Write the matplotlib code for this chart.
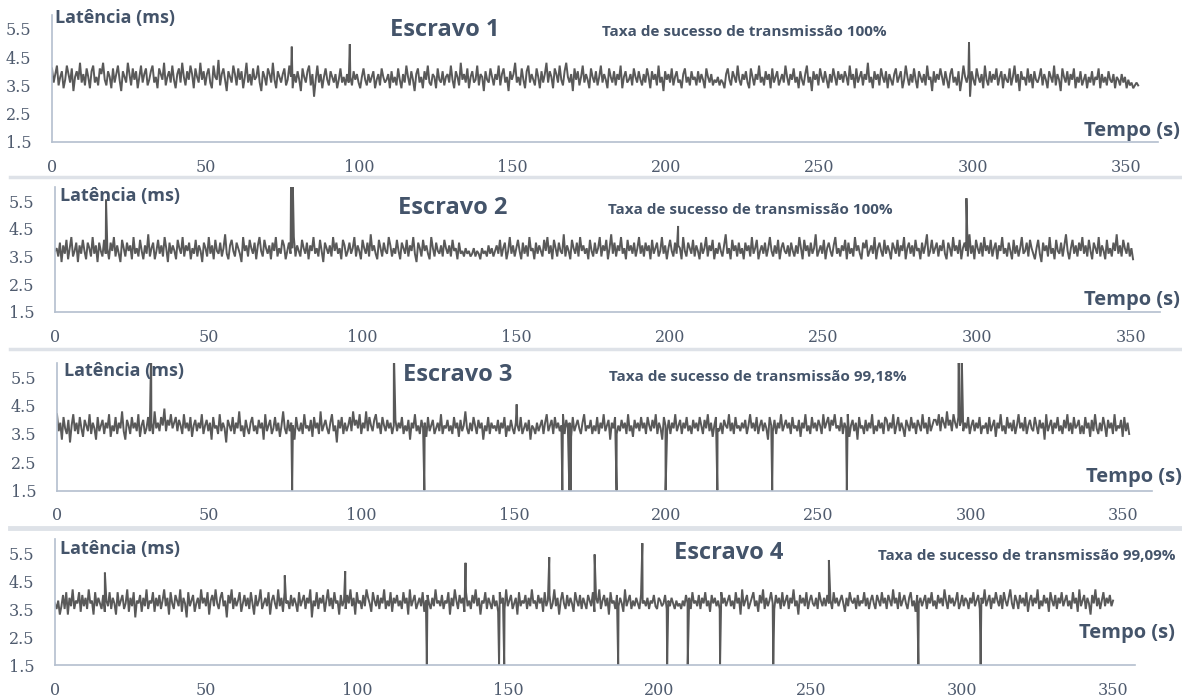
import numpy as np
import matplotlib
matplotlib.use('Agg')
import matplotlib.pyplot as plt
from matplotlib.lines import Line2D

# ---------------- data (latency in tenths of ms) ----------------
slave1 = [
41,36,39,42,35,38,40,34,37,42,39,36,41,33,38,40,37,43,36,39,35,41,38,34,40,42,36,38,35,41,
39,43,37,35,40,38,34,41,36,39,42,37,33,40,38,36,43,39,35,41,37,40,34,38,42,36,39,41,35,37,
40,42,36,38,34,41,39,37,43,35,38,40,36,42,37,34,39,41,36,43,38,35,40,37,42,39,34,41,38,36,
43,37,40,35,39,41,36,34,42,38,37,44,35,39,41,37,33,40,38,36,42,39,35,41,37,40,34,38,43,36,
39,35,41,37,38,42,36,33,40,38,35,41,39,36,43,37,34,40,38,36,39,41,35,37,42,38,34,39,36,40,
37,33,41,38,36,40,42,35,39,31,37,42,36,39,34,38,41,37,35,40,38,36,39,34,37,41,36,38,35,39,
36,38,35,40,37,39,36,34,38,41,37,35,39,36,38,40,34,37,39,35,41,38,36,37,39,34,40,36,38,35,
41,37,34,39,36,42,38,35,40,37,33,39,41,36,38,34,40,37,42,36,35,39,38,34,41,37,36,40,35,38,
39,36,42,37,34,40,38,35,43,37,39,36,41,34,38,40,36,37,42,35,39,38,33,40,37,36,41,38,35,39,
37,42,35,39,41,36,38,33,40,37,39,43,36,38,35,41,37,34,40,42,36,39,37,35,41,38,34,40,36,39,
43,36,40,38,34,41,39,36,42,37,35,40,43,38,36,39,33,41,37,40,35,38,42,36,39,37,34,41,38,36,
40,35,38,42,36,39,37,34,41,38,36,40,35,39,37,42,34,38,40,36,37,39,35,41,38,36,40,37,35,39,
36,41,38,34,40,37,39,35,42,36,38,33,40,37,39,36,41,35,38,40,36,37,34,39,41,36,38,35,40,37,
38,35,40,36,39,37,34,41,38,36,39,35,37,36,38,35,37,36,34,39,41,37,35,40,38,36,42,37,35,39,
37,40,36,34,41,38,35,39,37,42,36,38,35,40,37,39,34,41,36,38,40,35,37,39,36,42,38,35,39,37,
41,36,38,34,40,37,35,39,42,36,38,33,40,37,39,35,41,38,36,40,37,34,39,36,41,38,35,40,37,39,
36,40,38,35,42,37,39,34,41,36,38,40,35,39,37,43,36,38,34,40,37,39,35,41,38,36,40,34,39,37,
35,39,41,36,38,40,34,37,42,38,35,39,36,41,37,34,40,38,36,39,35,42,37,38,33,40,36,39,37,41,
38,35,40,37,34,39,41,36,38,35,40,33,37,42,38,36,39,31,40,37,35,41,38,36,39,34,42,37,35,40,
36,39,37,41,35,38,40,34,39,37,36,41,35,38,42,36,39,33,40,37,38,35,41,36,39,34,40,37,36,38,
41,35,39,37,34,40,38,36,42,35,39,37,33,41,38,36,40,35,39,37,41,34,38,36,40,35,37,39,34,38,
36,40,35,38,37,41,34,39,36,38,35,40,37,36,39,34,38,37,35,39,36,38,34,37,35,36,34,35,36,35]
slave2 = [
37,38,35,40,33,39,36,41,34,38,42,35,37,40,33,39,36,41,37,34,40,38,35,42,36,39,33,40,37,35,
41,36,38,34,40,37,42,35,39,36,33,41,38,35,40,37,39,34,42,36,38,35,41,37,34,39,36,43,35,38,
40,34,37,41,36,39,35,42,38,33,40,36,39,37,34,41,38,36,42,35,39,37,40,34,38,36,41,35,39,37,
33,40,38,35,42,36,39,34,41,37,36,40,35,38,43,36,34,39,41,37,35,40,38,36,33,42,37,39,35,41,
38,36,40,34,39,42,37,35,41,38,36,39,34,40,37,42,35,38,36,41,39,34,37,40,36,38,42,35,39,37,
35,41,38,36,40,34,39,37,42,36,38,35,41,37,33,40,38,36,39,35,42,37,40,36,38,34,41,39,35,37,
40,36,38,42,35,39,37,34,41,38,36,40,35,43,37,39,36,34,41,38,35,40,37,36,42,39,35,38,36,41,
37,34,40,38,36,41,35,39,37,42,36,33,40,38,35,41,37,39,36,34,42,38,35,40,37,36,39,35,41,38,
36,39,35,41,37,38,34,40,36,37,35,38,36,37,35,36,38,35,37,36,34,38,36,37,35,39,36,38,35,37,
39,36,41,35,38,40,34,37,42,36,39,35,38,41,37,34,40,36,39,35,42,37,38,34,40,36,39,37,35,41,
37,42,36,39,34,41,38,35,40,37,36,43,35,39,37,34,41,38,36,40,35,42,37,39,36,38,34,41,37,35,
40,36,38,42,35,39,37,41,34,38,43,36,40,35,39,37,42,36,38,34,41,37,39,36,40,35,38,42,36,39,
35,40,37,39,34,41,36,38,40,35,37,42,36,39,34,38,41,37,35,40,36,39,38,34,42,37,35,40,38,36,
41,35,39,37,34,40,36,38,42,35,39,37,41,34,38,36,40,37,35,39,43,36,38,34,41,37,39,35,40,36,
38,34,40,37,39,35,42,36,38,41,34,37,39,36,40,35,38,42,37,35,39,36,41,34,38,40,37,36,39,35,
40,37,35,39,36,42,38,34,41,37,39,35,40,36,38,43,35,37,39,36,41,34,38,40,37,35,39,42,36,38,
35,39,37,41,34,40,36,38,35,42,37,39,36,34,40,38,41,35,37,39,36,42,34,38,40,37,35,41,36,39,
37,34,40,38,36,41,35,39,37,42,34,38,40,36,39,35,41,37,38,34,40,36,39,43,35,37,41,36,38,40,
35,39,37,41,36,34,40,38,35,42,37,39,36,41,34,38,40,37,35,43,36,39,34,41,38,36,40,35,42,37,
39,36,41,35,38,40,34,39,37,42,36,38,35,40,37,34,41,36,39,35,38,42,36,37,40,35,41,38,36,34,
38,41,36,33,40,37,39,35,42,36,38,34,41,37,36,40,35,39,43,37,34,38,41,36,39,35,40,37,42,36,
39,35,41,37,34,40,38,36,42,35,39,37,34,41,36,38,35,40,37,43,36,39,35,41,38,36,40,35,38,34]
slave3 = [
42,36,39,33,41,37,35,40,32,38,42,36,39,35,41,37,34,40,38,36,42,35,39,37,33,41,36,38,40,35,
39,37,42,34,38,36,41,35,39,37,43,36,33,40,38,35,41,37,39,36,42,34,38,40,35,37,41,36,39,35,
43,37,39,36,41,38,44,36,40,38,42,37,39,41,36,40,38,35,42,37,39,36,41,34,38,40,36,39,37,42,
35,38,40,36,39,33,41,37,38,35,42,36,39,37,32,40,38,36,41,35,39,37,43,36,38,34,40,37,35,39,
41,36,38,35,40,37,39,33,42,36,38,40,35,37,41,36,39,34,38,43,37,35,40,36,39,38,33,41,37,36,
39,35,42,37,38,36,40,34,41,37,39,35,43,36,38,40,37,35,39,42,36,38,32,40,37,41,35,39,36,38,
41,36,43,38,40,37,42,35,39,37,43,36,41,38,36,40,42,37,39,35,41,38,36,40,37,39,35,38,40,36,
39,37,41,35,38,36,40,33,39,37,42,36,38,35,40,37,39,34,41,36,38,40,35,37,39,36,42,35,38,37,
40,36,38,35,41,37,39,34,40,36,38,43,37,35,39,36,41,38,35,40,37,39,33,38,36,41,35,39,37,38,
36,40,35,39,37,41,34,38,36,40,37,35,39,38,36,41,35,37,39,36,40,33,38,37,35,39,36,38,40,35,
39,42,36,38,40,35,41,37,39,36,38,42,35,40,37,39,34,41,36,38,40,37,35,39,42,36,38,37,40,35,
38,36,41,35,39,37,42,36,38,40,33,39,37,41,35,38,36,40,37,39,35,42,36,38,34,40,37,39,36,41,
37,39,35,41,38,36,40,37,42,35,39,37,33,41,38,36,40,35,39,37,42,36,38,40,35,39,37,41,36,38,
35,40,37,39,36,41,38,35,40,37,42,36,39,34,38,41,37,36,39,35,40,38,37,42,36,39,35,41,37,38,
36,39,37,40,35,38,42,37,39,36,41,35,38,40,36,39,37,33,41,38,36,40,35,39,37,42,36,38,40,37,
39,35,41,37,38,36,40,34,39,37,42,36,38,35,41,37,39,36,40,38,35,42,37,39,41,36,40,38,42,37,
38,36,41,35,39,37,42,34,38,40,36,39,33,41,37,38,35,40,36,39,37,42,35,38,36,40,37,39,35,41,
40,36,39,37,42,35,38,41,36,39,37,34,40,38,36,41,37,39,35,40,38,36,42,37,39,35,41,36,38,40,
40,38,42,36,41,39,37,43,38,40,36,42,39,37,41,38,40,36,39,37,41,35,38,40,36,39,37,41,35,38,
37,39,35,41,36,38,40,34,39,37,42,36,38,35,41,37,39,36,40,35,38,42,37,39,36,41,35,38,40,37,
36,41,38,35,40,37,39,33,42,36,38,40,35,39,37,41,36,38,35,40,37,42,36,39,35,41,37,38,40,35,
38,35,41,37,39,34,40,36,42,37,35,39,36,41,38,34,40,37,39,35,42,36,38,37,40,34,41,36,39,35]
slave4 = [
37,35,38,33,36,40,35,41,33,39,36,42,35,38,37,41,34,40,36,39,35,42,37,38,33,41,36,39,37,35,
40,34,38,36,41,35,39,37,33,41,36,38,40,35,37,42,34,39,36,41,32,38,37,40,34,39,36,42,35,38,
37,41,34,39,36,40,35,38,42,36,39,33,41,37,35,40,38,36,42,34,39,37,32,41,36,38,40,34,37,39,
35,42,37,39,36,41,33,38,40,36,42,37,35,39,41,36,38,32,40,37,42,35,39,36,38,41,34,37,40,36,
39,35,41,37,33,40,36,38,42,35,37,39,36,41,33,38,40,37,35,42,36,39,34,41,37,38,35,40,36,39,
37,34,41,36,38,40,35,39,37,42,32,38,36,41,35,39,37,40,34,38,42,36,39,35,41,37,38,33,40,36,
38,35,40,37,42,36,39,33,41,37,38,35,40,36,42,39,37,34,41,38,36,40,35,39,37,42,35,38,36,41,
34,39,37,40,36,38,35,41,37,39,33,42,36,38,40,35,37,39,36,41,34,38,40,37,35,39,36,42,37,38,
36,40,35,38,37,41,33,39,36,42,38,35,40,37,39,34,41,36,38,35,40,37,42,36,39,33,38,37,41,35,
39,37,35,40,36,38,34,41,37,39,35,42,36,38,40,35,37,39,33,41,36,38,37,40,35,39,36,42,37,38,
35,40,37,39,34,41,36,38,40,35,37,42,36,39,33,38,41,37,35,40,36,39,37,34,41,38,36,40,35,39,
37,35,40,38,36,41,34,39,37,42,35,38,40,36,39,33,41,37,38,35,40,36,39,37,34,42,36,38,40,35,
38,36,39,37,35,40,37,38,36,39,35,38,37,40,36,35,39,38,36,37,40,35,38,36,39,37,35,38,36,37,
35,38,36,40,37,39,35,41,37,38,36,40,35,39,37,41,36,38,34,40,37,39,36,38,35,41,37,39,36,38,
40,36,38,35,41,37,39,33,42,36,38,40,35,37,39,41,36,38,34,40,37,42,35,39,36,38,41,37,35,40,
37,39,35,41,36,38,40,35,39,37,42,36,38,33,40,37,39,36,41,35,38,40,37,36,39,35,41,38,36,39,
36,40,37,38,35,41,37,39,36,38,40,37,34,39,36,41,38,37,39,35,40,36,38,37,41,36,39,35,38,40,
37,35,40,38,36,41,37,39,35,40,38,36,42,37,39,35,41,36,38,40,37,35,39,41,36,38,34,40,37,39,
36,38,40,35,39,37,41,36,38,35,40,37,39,36,42,38,35,40,37,39,36,38,41,35,37,40,36,39,38,35,
39,37,41,36,38,40,35,39,37,42,36,38,40,35,39,37,41,38,36,40,35,41,38,36,39,42,37,35,40,38,
35,40,37,39,36,41,34,38,40,36,39,37,42,35,38,36,40,37,39,34,41,38,36,40,35,39,37,41,36,38,
40,36,38,35,41,37,39,34,42,36,38,40,35,39,37,33,40,37,42,36,39,35,38,41,36,39,37,40,36,38]

# sample end times (s)
end_times = [353.8, 350.7, 352.0, 350.0]

# isolated events (time s, latency ms): peaks and lost packets
ev1_t = [78.1, 97.0, 298.7]
ev1_v = [4.87, 4.96, 5.03]
ev2_t = [16.6, 76.8, 77.3, 202.7, 296.5]
ev2_v = [5.55, 6.5, 6.5, 4.6, 5.6]
ev3_t = [30.9, 77.2, 110.6, 120.6, 150.9, 165.9, 168.2, 168.7, 183.7, 199.8, 216.8, 234.8, 259.3, 296.0, 297.0]
ev3_v = [6.5, 1.5, 6.5, 1.5, 4.55, 1.5, 1.5, 1.5, 1.5, 1.5, 1.5, 1.5, 1.5, 6.5, 6.5]
ev4_t = [16.5, 76.0, 96.0, 123.0, 135.8, 146.9, 148.6, 163.5, 178.5, 186.3, 194.3, 202.5, 209.3, 220.0, 237.6, 256.0, 285.6, 306.2]
ev4_v = [4.8, 4.7, 4.85, 1.5, 5.15, 1.5, 1.5, 5.35, 5.45, 1.5, 5.85, 1.5, 1.5, 1.5, 1.5, 5.25, 1.5, 1.5]

names = ["Escravo 1", "Escravo 2", "Escravo 3", "Escravo 4"]
rates = ["Taxa de sucesso de transmissão 100%", "Taxa de sucesso de transmissão 100%",
         "Taxa de sucesso de transmissão 99,18%", "Taxa de sucesso de transmissão 99,09%"]
xticks = [0, 50, 100, 150, 200, 250, 300, 350]
yticks = [1.5, 2.5, 3.5, 4.5, 5.5]

# ---------------- layout ----------------
W, H = 1182, 697
fig = plt.figure(figsize=(W / 100, H / 100), dpi=100)

TXT = '#44546A'
TICK = '#4F5B6E'
LINE = '#595959'
SPINE = '#B4BFCE'

# per panel: x0 px, px per second, axis end px, y(1.5) px, px per ms
geo = [(52, 3.07, 1158, 142, 28.3),
       (55, 3.074, 1160, 312, 27.75),
       (57, 3.046, 1152, 490.5, 28.25),
       (55, 3.023, 1135, 665, 28.0)]

# text positions (px): latencia(x,y), escravo(x,y), taxa(x,y), tempo(right x, y)
tpos = [((55, 18), (390, 30), (602, 32), (1180, 131)),
        ((60, 196), (398, 208), (608, 210), (1180, 300)),
        ((64, 371), (403, 375), (609, 377), (1182, 477)),
        ((60, 549), (674, 553), (878, 556), (1175, 633))]

series = [slave1, slave2, slave3, slave4]
events = [(ev1_t, ev1_v), (ev2_t, ev2_v), (ev3_t, ev3_v), (ev4_t, ev4_v)]

FONT = 'Open Sans'

for i in range(4):
    x0, sx, xend, yb, sy = geo[i]
    ytop = yb - 4.5 * sy
    ax = fig.add_axes([x0 / W, 1 - yb / H, (xend - x0) / W, (yb - ytop) / H])
    base = np.array(series[i]) / 10.0
    tb = np.linspace(0, end_times[i], len(base))
    et, ev = events[i]
    t = np.concatenate([tb, et])
    v = np.concatenate([base, ev])
    order = np.argsort(t, kind='stable')
    ax.plot(t[order], v[order], color=LINE, lw=1.4, solid_joinstyle='miter')
    ax.set_xlim(0, (xend - x0) / sx)
    ax.set_ylim(1.5, 6.0)
    ax.set_xticks(xticks)
    ax.set_yticks(yticks)
    ax.set_yticklabels([f"{y:.1f}" for y in yticks])
    for s in ['top', 'right']:
        ax.spines[s].set_visible(False)
    for s in ['left', 'bottom']:
        ax.spines[s].set_color(SPINE)
        ax.spines[s].set_linewidth(1.2)
    ax.tick_params(length=0, labelsize=11.5, labelcolor=TICK, pad=0)
    ax.tick_params(axis='y', pad=15)
    ax.tick_params(axis='x', pad=12)
    for lab in ax.get_xticklabels() + ax.get_yticklabels():
        lab.set_fontfamily('DejaVu Serif')
    ax.patch.set_alpha(0)

    (lx, ly), (ex, ey), (rx, ry), (tx, ty) = tpos[i]
    fig.text(lx / W, 1 - ly / H, "Latência (ms)", fontsize=13, fontweight='bold',
             family=FONT, color=TXT, ha='left', va='center')
    fig.text(ex / W, 1 - ey / H, names[i], fontsize=17, fontweight='bold',
             family=FONT, color=TXT, ha='left', va='center')
    fig.text(rx / W, 1 - ry / H, rates[i], fontsize=11, fontweight='bold',
             family=FONT, color=TXT, ha='left', va='center')
    fig.text(tx / W, 1 - ty / H, "Tempo (s)", fontsize=14.5, fontweight='bold',
             family=FONT, color=TXT, ha='right', va='center')

# separator bands between panels
for yy, lw in [(177, 2.5), (348.5, 2.5), (528, 3.5)]:
    fig.add_artist(Line2D([10 / W, 1.0], [1 - yy / H] * 2, color='#DEE2E8', lw=lw))

fig.savefig('out.png', dpi=100)
